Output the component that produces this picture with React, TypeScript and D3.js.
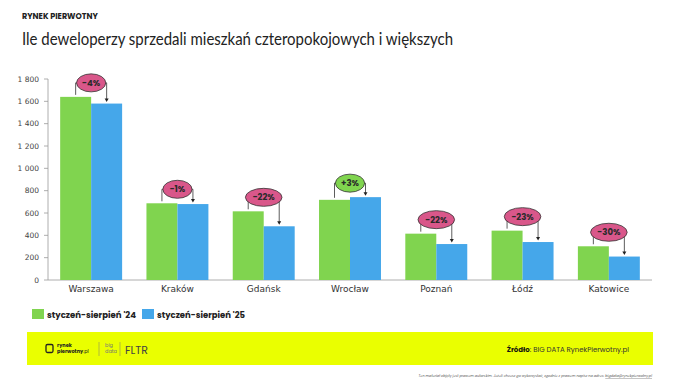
import React from "react";
import * as d3 from "d3";

const categories = ["Warszawa", "Kraków", "Gdańsk", "Wrocław", "Poznań", "Łódź", "Katowice"];
const series24 = [1640, 687, 615, 718, 415, 442, 302];
const series25 = [1580, 680, 481, 742, 322, 340, 210];
const changes = ["-4%", "-1%", "-22%", "+3%", "-22%", "-23%", "-30%"];
const yTicks = [0, 200, 400, 600, 800, 1000, 1200, 1400, 1600, 1800];
const seriesNames = ["styczeń-sierpień '24", "styczeń-sierpień '25"];

const W = 680, H = 383;
const GREEN = "#80d44f";
const BLUE = "#45a7ea";
const PINK = "#d9578a";
const FONT = "Poppins, 'Open Sans', sans-serif";

export default function App() {
  const x = d3.scaleBand<string>().domain(categories).range([48, 652]).paddingInner(0.282).paddingOuter(0.141);
  const y = d3.scaleLinear().domain([0, 1800]).range([280, 79]);
  const bw = x.bandwidth() / 2;
  const fmt = (v: number) => (v >= 1000 ? d3.format(",")(v).replace(",", " ") : String(v));

  return (
    <svg width={W} height={H} style={{ position: "absolute", left: 0, top: 0, background: "#fff" }} fontFamily={FONT}>
      <rect width={W} height={H} fill="#fff" />
      <text x={22} y={19} fontSize={8} fontWeight={700} fill="#222">RYNEK PIERWOTNY</text>
      <text x={22} y={45} fontSize={17} fontWeight={400} fill="#222" fontFamily="Lato, sans-serif" textLength={431} lengthAdjust="spacingAndGlyphs">
        Ile deweloperzy sprzedali mieszkań czteropokojowych i większych
      </text>

      {/* y axis */}
      <line x1={48} x2={48} y1={y(1800)} y2={y(0)} stroke="#999" strokeWidth={0.8} />
      {yTicks.map((t) => (
        <g key={t}>
          <line x1={44} x2={48} y1={y(t)} y2={y(t)} stroke="#999" strokeWidth={0.8} />
          <text x={39} y={y(t)} dy="0.35em" textAnchor="end" fontSize={7.5} fill="#444" fontFamily="'DejaVu Sans', sans-serif">
            {fmt(t)}
          </text>
        </g>
      ))}
      <line x1={48} x2={652} y1={y(0)} y2={y(0)} stroke="#999" strokeWidth={0.8} />

      {categories.map((c, i) => {
        const x0 = x(c)!;
        const cx = x0 + bw;
        const t1 = y(series24[i]);
        const t2 = y(series25[i]);
        const ey = Math.min(t1, t2) - 14;
        const lx = cx - 15.5;
        const rx = cx + 15.5;
        const label = changes[i];
        const erx = label.length * 3.7 + 3.5;
        const positive = label.startsWith("+");
        return (
          <g key={c}>
            <rect x={x0} y={t1} width={bw} height={y(0) - t1} fill={GREEN} />
            <rect x={x0 + bw} y={t2} width={bw} height={y(0) - t2} fill={BLUE} />
            <path d={`M${lx},${t1 - 2} V${ey} H${rx} V${t2 - 4}`} fill="none" stroke="#333" strokeWidth={0.8} />
            <path d={`M${rx - 2},${t2 - 5} L${rx + 2},${t2 - 5} L${rx},${t2 - 1.5} Z`} fill="#222" />
            <ellipse cx={cx} cy={ey} rx={erx} ry={9} fill={positive ? GREEN : PINK} stroke="#333" strokeWidth={0.8} />
            <text x={cx} y={ey} dy="0.36em" textAnchor="middle" fontSize={8.5} fontWeight={700} fill="#2a2a2a">
              {label}
            </text>
            <text x={cx} y={292} textAnchor="middle" fontSize={9} fill="#333" fontFamily="'DejaVu Sans', sans-serif">
              {c}
            </text>
          </g>
        );
      })}

      {/* legend */}
      <rect x={32} y={309} width={12} height={10} fill={GREEN} />
      <text x={47} y={317.5} fontSize={8.6} fontWeight={700} fill="#222" textLength={89} lengthAdjust="spacingAndGlyphs">{seriesNames[0]}</text>
      <rect x={142} y={309} width={12} height={10} fill={BLUE} />
      <text x={157} y={317.5} fontSize={8.6} fontWeight={700} fill="#222" textLength={88} lengthAdjust="spacingAndGlyphs">{seriesNames[1]}</text>

      {/* footer */}
      <rect x={27} y={332} width={626} height={33} fill="#eaff00" />
      <rect x={46} y={344.5} width={7} height={8} rx={1.5} fill="none" stroke="#222" strokeWidth={1.3} />
      <text x={57} y={347} fontSize={5} fontWeight={700} fill="#222">rynek</text>
      <text x={57} y={353} fontSize={5} fontWeight={700} fill="#222">pierwotny<tspan fontWeight={400}>.pl</tspan></text>
      <line x1={99} x2={99} y1={342} y2={356} stroke="#777" strokeWidth={0.5} />
      <text x={105} y={347} fontSize={5} fill="#777">big</text>
      <text x={105} y={353} fontSize={5} fill="#777">data</text>
      <line x1={120} x2={120} y1={342} y2={356} stroke="#777" strokeWidth={0.5} />
      <text x={125} y={353.5} fontSize={11} fill="#444">FLTR</text>
      <text x={629} y={351.5} textAnchor="end" fontSize={7} fill="#333">
        <tspan fontWeight={700} fill="#111">Źródło</tspan>: BIG DATA RynekPierwotny.pl
      </text>
      <text x={652} y={377} textAnchor="end" fontSize={3.4} fill="#555" fontStyle="italic">
        Ten materiał objęty jest prawem autorskim. Jeżeli chcesz go wykorzystać, zgodnie z prawem napisz na adres: <tspan textDecoration="underline">bigdata@rynekpierwotny.pl</tspan>
      </text>
    </svg>
  );
}
